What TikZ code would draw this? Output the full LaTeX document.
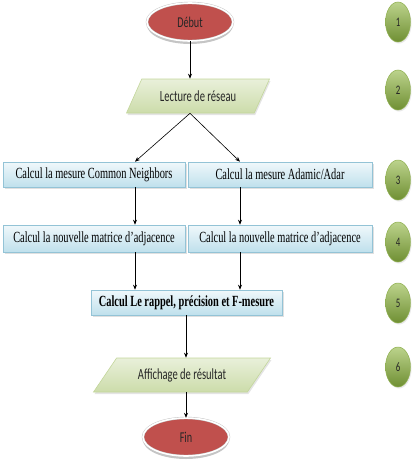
\documentclass[tikz,border=0pt]{standalone}
\usepackage{fontspec}
\setmainfont{Liberation Serif}
\newfontfamily\calfnt[FakeStretch=0.68]{Carlito}
\newfontfamily\tmsfnt[FakeStretch=0.67]{Liberation Serif}
\usetikzlibrary{shapes.geometric,shadows,arrows.meta}
\definecolor{redfill}{HTML}{C0504D}
\definecolor{grtop}{HTML}{BCD38C}
\definecolor{grbot}{HTML}{6F8F33}
\definecolor{grline}{HTML}{8EAF4E}
\definecolor{ptop}{HTML}{E9F0DA}
\definecolor{pbot}{HTML}{CCDCAA}
\definecolor{pline}{HTML}{C3D69B}
\definecolor{btop}{HTML}{F0F8FB}
\definecolor{bbot}{HTML}{BFE0EC}
\definecolor{bline}{HTML}{93C3D6}
\tikzset{
  term/.style={ellipse, minimum width=86pt, minimum height=38pt, fill=redfill,
    draw=black!25, double=white, double distance=1.6pt, line width=0.4pt,
    font=\calfnt\fontsize{15}{17}\selectfont, text=black!85,
    drop shadow={shadow xshift=0pt, shadow yshift=-3pt, fill=black!45, opacity=0.5}},
  iobox/.style={trapezium, trapezium stretches body, minimum height=34pt,
    top color=ptop, bottom color=pbot, draw=pline, line width=0.6pt,
    font=\calfnt\fontsize{15.5}{17}\selectfont, text=black!85,
    drop shadow={shadow xshift=1pt, shadow yshift=-2pt, fill=black!30, opacity=0.35}},
  procbox/.style={rectangle, inner sep=0pt, top color=btop, bottom color=bbot,
    draw=bline, line width=0.6pt, font=\tmsfnt\fontsize{15.5}{17}\selectfont,
    drop shadow={shadow xshift=1.5pt, shadow yshift=-1.5pt, fill=black!35, opacity=0.35}},
  stepnum/.style={ellipse, minimum width=25pt, minimum height=40pt, inner sep=0pt,
    top color=grtop, bottom color=grbot, draw=grline, line width=0.5pt,
    font=\calfnt\fontsize{13}{15}\selectfont, text=black!85,
    drop shadow={shadow xshift=1pt, shadow yshift=-1.5pt, fill=black!30, opacity=0.3}},
  conn/.style={-{Stealth[length=5pt,width=4pt]}, line width=0.6pt, black}
}
\begin{document}
\begin{tikzpicture}[x=1pt,y=-1pt]
\useasboundingbox (0,0) rectangle (412,469);
% terminals
\node[term] (debut) at (190,22) {Début};
\node[term] (fin) at (186,437) {Fin};
% input/output
\node[iobox, trapezium left angle=49, trapezium right angle=131, minimum width=143pt] (lect) at (198,96) {Lecture de réseau};
\node[iobox, trapezium left angle=41, trapezium right angle=139, minimum width=177pt] (aff) at (182,375) {Affichage de résultat};
% process boxes
\node[procbox, minimum width=182pt, minimum height=25pt] (c3l) at (94,174.5) {Calcul la mesure Common Neighbors};
\node[procbox, minimum width=184pt, minimum height=25pt] (c3r) at (280,174.5) {Calcul la mesure Adamic/Adar};
\node[procbox, minimum width=182pt, minimum height=27pt] (c4l) at (94,238.5) {Calcul la nouvelle matrice d’adjacence};
\node[procbox, minimum width=184pt, minimum height=27pt] (c4r) at (280,238.5) {Calcul la nouvelle matrice d’adjacence};
\node[procbox, minimum width=191pt, minimum height=25pt, font=\tmsfnt\bfseries\fontsize{15.5}{17}\selectfont] (c5) at (186.5,302.5) {Calcul Le rappel, précision et F-mesure};
% step numbers
\node[stepnum] (n1) at (398,22) {1};
\node[stepnum] (n2) at (398,90) {2};
\node[stepnum] (n3) at (398,180) {3};
\node[stepnum] (n4) at (398,242) {4};
\node[stepnum] (n5) at (398,303) {5};
\node[stepnum] (n6) at (398,367) {6};
% columns
\coordinate (colL) at (135,0);
\coordinate (colR) at (240,0);
% connectors
\draw[conn] (debut.south) -- (debut.south |- lect.north);
\draw[conn] (lect.south -| debut) -- (c3l.north -| colL);
\draw[conn] (lect.south -| debut) -- (c3r.north -| colR);
\draw[conn] (c3l.south -| colL) -- (c4l.north -| colL);
\draw[conn] (c3r.south -| colR) -- (c4r.north -| colR);
\draw[conn] (c4l.south -| colL) -- (c5.north -| colL);
\draw[conn] (c4r.south -| colR) -- (c5.north -| colR);
\draw[conn] (c5.south -| fin) -- (aff.north -| fin);
\draw[conn] (aff.south -| fin) -- (fin.north);
\end{tikzpicture}
\end{document}
